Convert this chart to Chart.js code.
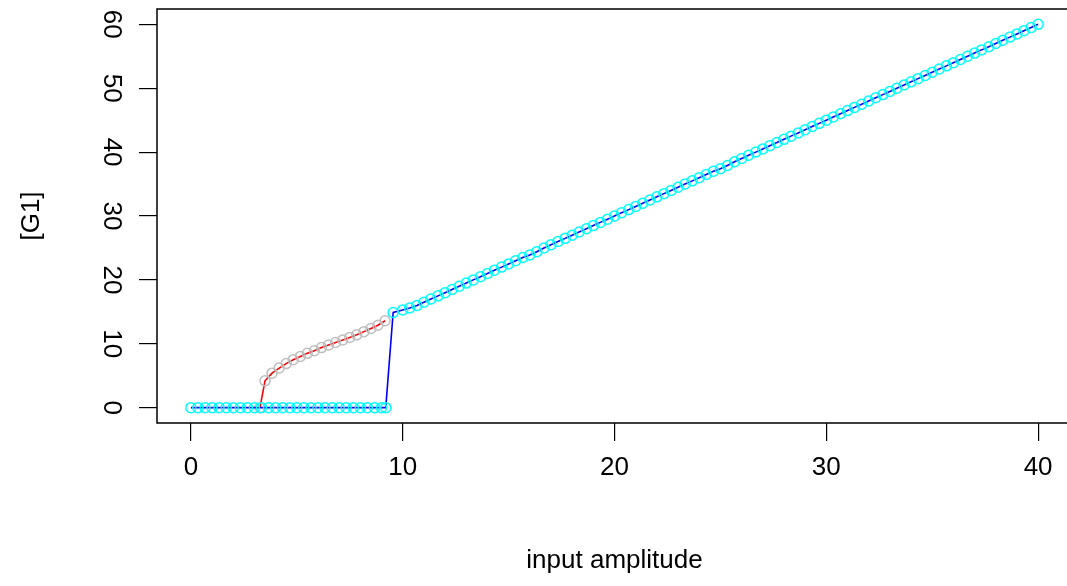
<!DOCTYPE html>
<html>
<head>
<meta charset="utf-8">
<script src="https://cdn.jsdelivr.net/npm/chart.js@4"></script>
<style>
  html, body { margin: 0; padding: 0; background: #fff; overflow: hidden; }
  #wrap { width: 1080px; height: 586px; }
</style>
</head>
<body>
<div id="wrap"><canvas id="g1Chart" width="1080" height="586"></canvas></div>
<script>
// upper branch (blue line, cyan circles)
const upX = [
  0, 0.33, 0.67, 1, 1.33, 1.67, 2, 2.33, 2.67, 3, 3.33, 3.67, 4, 4.33, 4.67,
  5, 5.33, 5.67, 6, 6.33, 6.67, 7, 7.33, 7.67, 8, 8.33, 8.67, 9, 9.2,
  9.55, 10, 10.33, 10.67, 11, 11.33, 11.67, 12, 12.33, 12.67, 13, 13.33, 13.67,
  14, 14.33, 14.67, 15, 15.33, 15.67, 16, 16.33, 16.67, 17, 17.33, 17.67,
  18, 18.33, 18.67, 19, 19.33, 19.67, 20, 20.33, 20.67, 21, 21.33, 21.67,
  22, 22.33, 22.67, 23, 23.33, 23.67, 24, 24.33, 24.67, 25, 25.33, 25.67,
  26, 26.33, 26.67, 27, 27.33, 27.67, 28, 28.33, 28.67, 29, 29.33, 29.67,
  30, 30.33, 30.67, 31, 31.33, 31.67, 32, 32.33, 32.67, 33, 33.33, 33.67,
  34, 34.33, 34.67, 35, 35.33, 35.67, 36, 36.33, 36.67, 37, 37.33, 37.67,
  38, 38.33, 38.67, 39, 39.33, 39.67, 40
];
const upY = [
  0, 0, 0, 0, 0, 0, 0, 0, 0, 0, 0, 0, 0, 0, 0,
  0, 0, 0, 0, 0, 0, 0, 0, 0, 0, 0, 0, 0, 0,
  14.9, 15.3, 15.6, 16.0, 16.5, 17.0, 17.5, 18.0, 18.5, 19.0, 19.5, 20.0, 20.5,
  21.0, 21.5, 22.0, 22.5, 23.0, 23.5, 23.9, 24.4, 25.0, 25.5, 26.0, 26.5,
  27.0, 27.5, 28.0, 28.5, 29.0, 29.5, 30.0, 30.5, 31.0, 31.5, 32.0, 32.5,
  33.0, 33.5, 34.0, 34.5, 35.0, 35.5, 36.0, 36.5, 37.0, 37.4, 37.9, 38.5,
  39.0, 39.5, 40.0, 40.5, 41.0, 41.5, 42.0, 42.5, 43.0, 43.5, 44.0, 44.5,
  45.0, 45.5, 46.0, 46.5, 47.0, 47.5, 48.0, 48.5, 49.0, 49.5, 50.0, 50.5,
  51.0, 51.5, 52.0, 52.5, 53.0, 53.5, 54.0, 54.5, 55.0, 55.5, 56.0, 56.5,
  57.0, 57.5, 58.0, 58.5, 59.0, 59.5, 60.0
];

// lower branch (red line, grey circles)
const lowX = [3.26, 3.5, 3.83, 4.17, 4.5, 4.83, 5.17, 5.5, 5.83, 6.17, 6.5, 6.83, 7.17, 7.5, 7.83, 8.17, 8.5, 8.83, 9.17];
const lowY = [0, 4.2, 5.4, 6.2, 6.9, 7.5, 8.0, 8.5, 8.9, 9.4, 9.8, 10.2, 10.6, 11.0, 11.4, 11.9, 12.4, 12.9, 13.6];

const xTicks = [0, 10, 20, 30, 40];
const yTicks = [0, 10, 20, 30, 40, 50, 60];

const FONT = "'Liberation Sans', Arial, sans-serif";

function toPoints(xs, ys) {
    return xs.map((x, i) => ({ x: x, y: ys[i] }));
}

// box round the plot region, like R's box()
const boxPlugin = {
    id: 'plotBox',
    afterDraw(chart) {
        const a = chart.chartArea;
        const ctx = chart.ctx;
        ctx.save();
        ctx.strokeStyle = '#000';
        ctx.lineWidth = 1.5;
        ctx.strokeRect(a.left, a.top, a.right - a.left, a.bottom - a.top);
        ctx.restore();
    }
};

const ctx = document.getElementById('g1Chart').getContext('2d');
new Chart(ctx, {
    type: 'scatter',
    data: {
        datasets: [
            {
                data: toPoints(upX, upY),
                showLine: true,
                borderColor: '#0000ff',
                borderWidth: 1.6,
                pointStyle: 'circle',
                pointRadius: 5,
                pointBorderColor: '#00ffff',
                pointBackgroundColor: 'rgba(0,0,0,0)',
                pointBorderWidth: 1.5,
                order: 1
            },
            {
                data: toPoints(lowX, lowY),
                showLine: true,
                borderColor: '#ff0000',
                borderWidth: 1.6,
                pointStyle: 'circle',
                pointRadius: 5,
                pointBorderColor: '#bebebe',
                pointBackgroundColor: 'rgba(0,0,0,0)',
                pointBorderWidth: 1.5,
                order: 2
            }
        ]
    },
    options: {
        responsive: false,
        animation: false,
        layout: { padding: { top: 9, right: 8, left: 0, bottom: 0 } },
        plugins: {
            legend: { display: false },
            tooltip: { enabled: false }
        },
        scales: {
            x: {
                type: 'linear',
                min: -1.6,
                max: 41.6,
                afterBuildTicks: (scale) => { scale.ticks = xTicks.map(v => ({ value: v })); },
                afterFit: (scale) => {
                    scale.height = 163;
                    scale.paddingLeft = 0;
                    scale.paddingRight = 0;
                },
                grid: { drawOnChartArea: false, drawTicks: true, tickLength: 18, color: '#000', lineWidth: 1.2 },
                border: { display: false },
                ticks: {
                    color: '#000',
                    font: { family: FONT, size: 26 },
                    padding: 11,
                    maxRotation: 0,
                    minRotation: 0
                },
                title: {
                    display: true,
                    text: 'input amplitude',
                    color: '#000',
                    font: { family: FONT, size: 26 },
                    padding: { top: 0, bottom: 10 }
                }
            },
            y: {
                type: 'linear',
                min: -2.4,
                max: 62.4,
                afterBuildTicks: (scale) => { scale.ticks = yTicks.map(v => ({ value: v })); },
                afterFit: (scale) => {
                    scale.width = 157;
                    scale.paddingTop = 0;
                    scale.paddingBottom = 0;
                },
                grid: { drawOnChartArea: false, drawTicks: true, tickLength: 18, color: '#000', lineWidth: 1.2 },
                border: { display: false },
                ticks: {
                    color: '#000',
                    font: { family: FONT, size: 26 },
                    padding: 13,
                    minRotation: -90,
                    maxRotation: -90,
                    crossAlign: 'center'
                },
                title: {
                    display: true,
                    text: '[G1]',
                    color: '#000',
                    font: { family: FONT, size: 26 },
                    padding: { top: 16, bottom: 0 }
                }
            }
        }
    },
    plugins: [boxPlugin]
});
</script>
</body>
</html>
